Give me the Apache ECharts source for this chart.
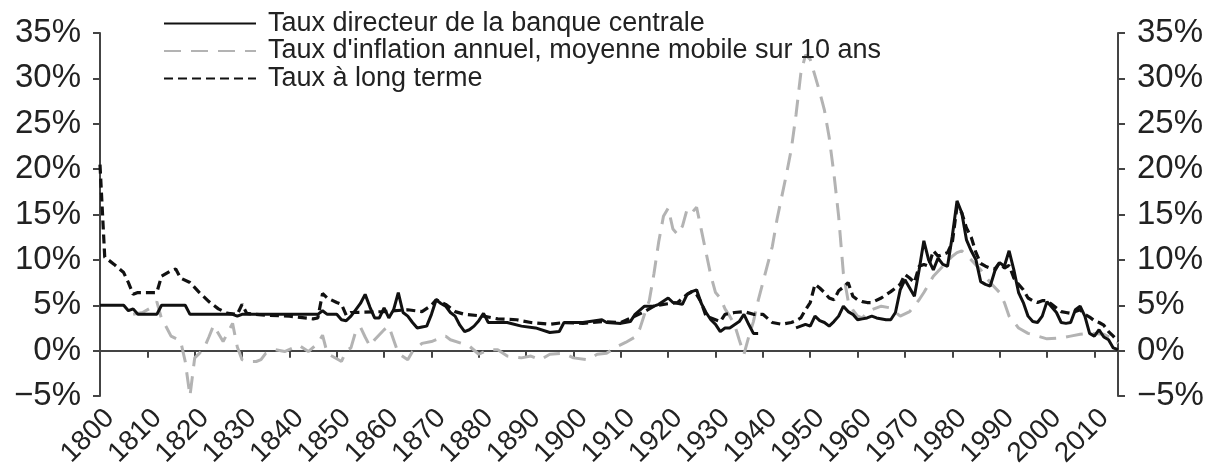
<!DOCTYPE html>
<html>
<head>
<meta charset="utf-8">
<script src="https://cdn.jsdelivr.net/npm/echarts@6/dist/echarts.min.js"></script>
<style>
  html, body { margin: 0; padding: 0; background: #fff; }
  #chart { width: 1210px; height: 470px; }
</style>
</head>
<body>
<div id="chart"></div>
<script>
// taux directeur de la banque centrale
var policyYears = [1800,1805,1806,1807,1808,1812,1813,1818,1819,1828,1829,1830,1846,1847,1848,1850,1851,1852,1853,1854,1855,1856,1857,1858,1859,1860,1861,1862,1863,1864,1865,1866,1867,1868,1869,1870,1871,1872,1873,1874,1875,1876,1877,1878,1879,1880,1881,1882,1886,1889,1892,1895,1897,1898,1902,1906,1907,1910,1912,1913,1915,1917,1918,1920,1921,1923,1924,1925,1926,1927,1928,1929,1930,1931,1932,1933,1935,1936,1937,1938,1939,1940,1947,1948,1949,1950,1951,1952,1953,1954,1955,1956,1957,1958,1959,1960,1961,1962,1963,1964,1966,1967,1968,1969,1970,1971,1972,1973,1974,1975,1976,1977,1978,1979,1980,1981,1982,1983,1984,1985,1986,1987,1988,1989,1990,1991,1992,1993,1994,1995,1996,1997,1998,1999,2000,2001,2002,2003,2004,2005,2006,2007,2008,2009,2010,2011,2012,2013,2014,2015];
var policyRate = [5.0,5.0,4.4,4.6,4.0,4.0,5.0,5.0,4.0,4.0,3.8,4.0,4.0,4.4,4.0,4.0,3.4,3.3,3.8,4.5,5.2,6.2,4.8,3.6,3.6,4.7,3.6,4.5,6.4,4.2,3.8,3.1,2.5,2.6,2.7,4.0,5.6,5.2,4.9,4.2,3.8,2.8,2.1,2.3,2.7,3.3,4.1,3.1,3.1,2.7,2.5,2.0,2.1,3.1,3.1,3.4,3.1,3.0,3.2,4.0,4.9,4.9,5.1,5.8,5.3,5.1,6.2,6.5,6.7,5.2,4.2,3.4,2.9,2.1,2.5,2.5,3.2,4.0,2.9,1.9,1.9,null,2.5,2.7,2.9,2.7,3.8,3.3,3.1,2.7,3.2,3.8,4.9,4.3,4.0,3.4,3.5,3.6,3.8,3.6,3.4,3.4,4.2,6.7,7.8,6.9,6.0,8.9,12.1,10.0,8.9,10.2,9.5,9.3,12.6,16.5,15.2,12.2,11.0,10.0,7.6,7.3,7.1,8.8,9.7,9.3,11.0,8.9,6.4,5.3,3.8,3.2,3.1,3.8,5.4,4.8,4.2,3.1,3.0,3.1,4.5,4.9,3.8,1.9,1.6,2.3,1.5,1.2,0.3,0.1];

// taux d'inflation annuel, moyenne mobile sur 10 ans
var inflYears = [1807,1809,1811,1812,1813,1814,1815,1817,1818,1819,1820,1821,1822,1823,1824,1825,1826,1828,1829,1830,1831,1833,1834,1835,1837,1839,1842,1844,1846,1847,1848,1850,1851,1852,1853,1854,1855,1856,1857,1858,1860,1861,1862,1863,1865,1866,1868,1870,1872,1873,1874,1877,1878,1880,1882,1884,1886,1889,1891,1893,1895,1898,1900,1903,1905,1907,1909,1911,1913,1914,1915,1916,1917,1918,1919,1920,1921,1922,1923,1924,1925,1926,1927,1928,1929,1930,1931,1932,1933,1934,1935,1936,1937,1938,1939,1940,1941,1942,1943,1944,1945,1946,1947,1948,1949,1950,1951,1952,1953,1954,1955,1956,1957,1958,1959,1960,1961,1962,1963,1965,1967,1969,1971,1973,1974,1976,1978,1980,1981,1982,1984,1986,1988,1990,1991,1992,1994,1996,1998,2000,2003,2005,2007,2009,2012,2014,2015];
var inflRate = [4.0,4.2,4.8,5.4,3.5,2.6,1.6,1.1,-1.2,-5.0,-0.8,-0.3,0.3,1.5,2.8,1.9,1.0,3.0,0.4,-1.0,-1.2,-1.2,-1.0,-0.3,0.1,-0.1,0.6,-0.1,0.8,1.7,-0.3,-0.9,-1.2,0.0,0.3,2.1,2.6,1.5,0.5,1.2,2.3,2.7,1.2,-0.3,-1.0,-0.1,0.8,1.0,1.4,1.6,1.2,0.7,0.5,-0.4,0.1,0.1,-0.6,-0.8,-0.6,-1.0,-0.4,-0.3,-0.8,-1.0,-0.4,-0.3,0.4,0.9,1.5,2.4,4.0,5.5,8.5,12.0,14.8,15.7,13.4,12.8,13.7,15.6,15.2,15.8,13.3,10.8,8.3,6.4,5.8,4.6,3.8,2.9,1.2,-0.4,1.5,3.2,5.5,7.5,9.5,11.5,14.5,17.0,19.5,22.2,26.0,30.5,32.6,32.1,30.3,28.5,26.5,23.5,19.5,14.8,8.5,5.5,4.5,3.8,3.6,4.2,4.5,4.9,4.7,3.8,4.3,5.6,6.4,8.2,9.3,10.4,10.8,11.0,10.0,8.9,7.5,6.4,5.3,3.8,2.5,1.9,1.6,1.3,1.4,1.6,1.8,1.9,1.8,1.3,0.8];

// taux a long terme
var longYears = [1800,1801,1803,1805,1806,1807,1808,1812,1813,1815,1816,1817,1819,1821,1823,1825,1827,1829,1830,1831,1835,1840,1845,1846,1847,1848,1850,1851,1852,1853,1860,1865,1868,1870,1871,1873,1875,1877,1881,1884,1888,1891,1895,1898,1902,1906,1910,1913,1915,1917,1919,1922,1924,1925,1926,1927,1928,1930,1931,1932,1934,1936,1938,1940,1942,1944,1946,1947,1948,1949,1950,1951,1952,1953,1954,1955,1956,1957,1958,1959,1960,1961,1962,1963,1965,1967,1969,1970,1971,1972,1973,1974,1975,1976,1977,1978,1979,1980,1981,1982,1983,1984,1985,1986,1987,1988,1989,1990,1991,1992,1993,1994,1995,1996,1997,1998,1999,2000,2001,2002,2003,2004,2005,2006,2007,2008,2009,2010,2011,2012,2013,2014,2015];
var longRate = [20.5,10.3,9.5,8.6,7.5,6.2,6.4,6.4,8.2,8.8,9.0,8.0,7.5,6.4,5.4,4.6,4.1,4.0,5.1,4.1,3.9,3.8,3.5,3.6,6.3,5.8,5.3,5.1,3.9,4.2,4.3,4.5,4.3,5.0,5.6,5.1,4.3,4.0,3.8,3.5,3.4,3.1,2.9,3.1,3.0,3.2,3.1,3.8,4.3,4.9,5.1,5.3,6.2,6.5,6.2,5.3,3.8,3.4,3.2,4.0,4.2,4.3,4.0,4.0,3.1,2.9,3.1,3.3,3.6,4.5,5.3,7.3,6.9,6.4,5.8,5.6,6.6,7.0,7.5,6.0,5.6,5.4,5.3,5.3,5.8,6.5,7.3,8.4,8.0,7.5,9.3,9.5,9.3,11.0,10.4,10.6,10.8,11.9,15.9,15.2,13.5,12.5,10.8,9.6,9.3,9.1,9.0,9.7,9.1,9.4,8.0,7.3,6.7,5.8,5.5,5.3,5.5,5.5,5.1,4.7,4.3,4.2,4.1,4.3,4.5,4.0,3.7,3.3,3.1,2.8,2.1,1.6,1.0];

var yTicks = [-5, 0, 5, 10, 15, 20, 25, 30, 35];

function pairs(years, vals) {
  return years.map(function (y, i) {
    return [y, vals[i] === null ? '-' : vals[i]];
  });
}

var FONT = 'Liberation Sans, Arial, sans-serif';
var AXIS_COLOR = '#444';

function pctLabel(v) {
  return (v + '%').replace('-', '\u2212');
}

function yAxisCfg(pos) {
  return {
    type: 'value',
    position: pos,
    min: yTicks[0],
    max: yTicks[yTicks.length - 1],
    interval: 5,
    splitLine: { show: false },
    axisLine: { show: true, lineStyle: { color: AXIS_COLOR, width: 2 } },
    axisTick: { show: true, length: 7, lineStyle: { color: AXIS_COLOR, width: 2 } },
    axisLabel: {
      margin: 19,
      color: '#222',
      fontFamily: FONT,
      fontSize: 33,
      formatter: pctLabel
    }
  };
}

var chart = echarts.init(document.getElementById('chart'));
chart.setOption({
  animation: false,
  backgroundColor: '#fff',
  grid: { left: 100, right: 92, top: 33, bottom: 74 },
  legend: {
    orient: 'vertical',
    left: 163,
    top: 10,
    padding: 0,
    itemWidth: 92,
    itemHeight: 14,
    itemGap: 0.5,
    itemStyle: { opacity: 0 },
    data: ['Taux directeur de la banque centrale', "Taux d'inflation annuel, moyenne mobile sur 10 ans", 'Taux à long terme'],
    textStyle: { fontFamily: FONT, fontSize: 27, color: '#222', lineHeight: 26.5, padding: [0, 0, 0, 7] }
  },
  xAxis: {
    type: 'value',
    min: 1800,
    max: 2015,
    interval: 10,
    splitLine: { show: false },
    axisLine: { lineStyle: { color: AXIS_COLOR, width: 2 } },
    axisTick: { length: 7, lineStyle: { color: AXIS_COLOR, width: 2 } },
    axisLabel: {
      rotate: 45,
      margin: 8,
      verticalAlign: 'top',
      color: '#222',
      fontFamily: FONT,
      fontSize: 28,
      showMaxLabel: false,
      formatter: function (v) { return v % 10 === 0 ? String(v) : ''; }
    }
  },
  yAxis: [yAxisCfg('left'), yAxisCfg('right')],
  series: [
    {
      name: "Taux d'inflation annuel, moyenne mobile sur 10 ans",
      type: 'line',
      symbol: 'none',
      z: 1,
      data: pairs(inflYears, inflRate),
      itemStyle: { color: '#b3b3b3' },
      lineStyle: { color: '#b3b3b3', width: 3, type: [17, 10] }
    },
    {
      name: 'Taux à long terme',
      type: 'line',
      symbol: 'none',
      z: 2,
      data: pairs(longYears, longRate),
      itemStyle: { color: '#111' },
      lineStyle: { color: '#111', width: 3.2, type: [9, 5] }
    },
    {
      name: 'Taux directeur de la banque centrale',
      type: 'line',
      symbol: 'none',
      z: 3,
      connectNulls: false,
      data: pairs(policyYears, policyRate),
      itemStyle: { color: '#111' },
      lineStyle: { color: '#111', width: 3 }
    }
  ]
});
</script>
</body>
</html>
